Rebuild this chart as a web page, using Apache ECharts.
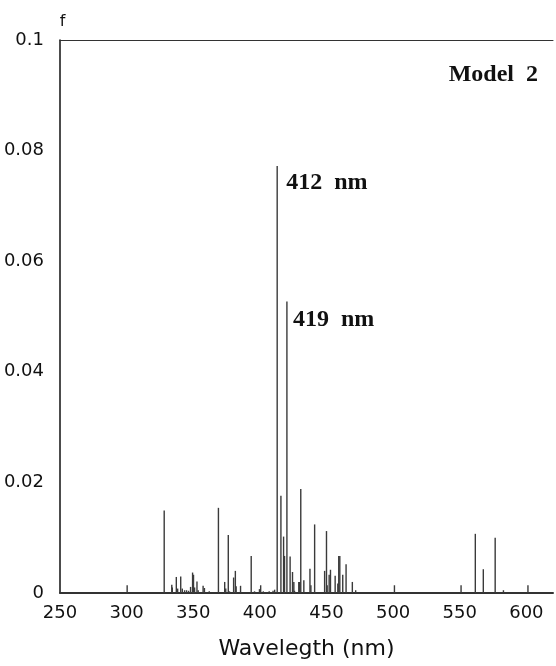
<!DOCTYPE html>
<html>
<head>
<meta charset="utf-8">
<script src="https://cdn.jsdelivr.net/npm/echarts@6/dist/echarts.min.js"></script>
<style>
  html, body { margin: 0; padding: 0; background: #fff; }
  #main { width: 556px; height: 666px; }
</style>
</head>
<body>
<div id="main"></div>
<script>
// 波长 (nm) 与振子强度 f
const wavelengths = [
  300.4, 328.2, 333.9, 334.3, 337.3, 338.3, 340.6, 341.8, 343.5, 345.0,
  346.5, 348.0, 349.5, 350.2, 351.0, 352.8, 353.7, 357.4, 358.4, 362.0,
  368.9, 373.6, 374.4, 376.3, 377.2, 380.3, 381.6, 382.2, 385.5, 393.5,
  396.0, 399.7, 400.6, 402.6, 407.0, 409.9, 411.1, 413.0, 415.8, 417.8,
  418.5, 420.3, 422.7, 424.5, 425.5, 426.0, 429.2, 429.9, 430.7, 433.0,
  437.6, 438.3, 441.1, 448.6, 450.0, 450.5, 452.0, 453.0, 456.5, 458.5,
  459.2, 460.0, 462.2, 464.7, 469.4, 471.9, 501.0, 551.0, 561.7, 567.7,
  576.6, 582.8, 601.2
];
const strengths = [
  0.0014, 0.0149, 0.0015, 0.0010, 0.0029, 0.0008, 0.0030, 0.0008, 0.0005, 0.0005,
  0.0004, 0.0011, 0.0037, 0.0033, 0.0010, 0.0021, 0.0005, 0.0013, 0.0009, 0.0003,
  0.0154, 0.0020, 0.0008, 0.0105, 0.0003, 0.0028, 0.0040, 0.0012, 0.0013, 0.0067,
  0.0003, 0.0007, 0.0014, 0.0003, 0.0003, 0.0004, 0.0006, 0.0772, 0.0176, 0.0102,
  0.0067, 0.0527, 0.0066, 0.0038, 0.0020, 0.0004, 0.0020, 0.0020, 0.0188, 0.0023,
  0.0044, 0.0014, 0.0124, 0.0040, 0.0112, 0.0014, 0.0033, 0.0042, 0.0031, 0.0017,
  0.0067, 0.0067, 0.0033, 0.0052, 0.0020, 0.0005, 0.0014, 0.0014, 0.0107, 0.0043,
  0.0100, 0.0005, 0.0014
];
// 标注的峰
const peakLabels = ['412  nm', '419  nm'];
const peakIndex = [37, 41];
const modelName = 'Model  2';

const xTicks = [250, 300, 350, 400, 450, 500, 550, 600];
const yTicks = [0, 0.02, 0.04, 0.06, 0.08, 0.1];

const chart = echarts.init(document.getElementById('main'), null, { renderer: 'canvas' });

const seriesData = wavelengths.map((w, i) => [w, strengths[i]]);
const tickFont = { fontFamily: 'DejaVu Sans', fontSize: 18, color: '#111' };
const serifFont = 'Liberation Serif';

chart.setOption({
  animation: false,
  grid: { left: 60, right: 0, top: 40, bottom: 73 },
  xAxis: [
    {
      type: 'value',
      min: 250,
      max: 620,
      interval: 50,
      position: 'bottom',
      name: 'Wavelegth (nm)',
      nameLocation: 'middle',
      nameGap: 45,
      nameTextStyle: { fontFamily: 'DejaVu Sans', fontSize: 22, color: '#111' },
      axisLine: { show: true, onZero: false, lineStyle: { color: '#333', width: 2 } },
      axisTick: { show: false },
      splitLine: { show: false },
      axisLabel: Object.assign({
        margin: 11,
        formatter: v => (xTicks.indexOf(v) >= 0 ? String(v) : '')
      }, tickFont)
    },
    {
      type: 'value',
      min: 250,
      max: 620,
      position: 'top',
      axisLine: { show: true, onZero: false, lineStyle: { color: '#333', width: 1 } },
      axisTick: { show: false },
      axisLabel: { show: false },
      splitLine: { show: false }
    }
  ],
  yAxis: {
    type: 'value',
    min: 0,
    max: 0.1,
    interval: 0.02,
    name: 'f',
    nameGap: 10,
    nameTextStyle: { fontFamily: 'DejaVu Sans', fontSize: 16, color: '#111', padding: [0, 0, 0, 5] },
    axisLine: { show: true, lineStyle: { color: '#111', width: 1.5 } },
    axisTick: { show: false },
    splitLine: { show: false },
    axisLabel: Object.assign({
      margin: 16,
      formatter: v => (yTicks.some(t => Math.abs(t - v) < 1e-9) ? String(+v.toFixed(2)) : '')
    }, tickFont)
  },
  series: [
    {
      type: 'bar',
      xAxisIndex: 0,
      barWidth: 1.4,
      itemStyle: { color: '#3a3a3a' },
      data: seriesData
    }
  ]
});

// 峰标注和模型名称
const texts = peakIndex.map((idx, k) => {
  const p = chart.convertToPixel({ xAxisIndex: 0, yAxisIndex: 0 }, seriesData[idx]);
  return {
    type: 'text',
    x: p[0] + (k === 0 ? 9 : 6),
    y: p[1] + (k === 0 ? 17 : 18),
    style: {
      text: peakLabels[k],
      font: 'bold 24px "' + serifFont + '"',
      fill: '#111',
      verticalAlign: 'middle',
      align: 'left'
    }
  };
});
texts.push({
  type: 'text',
  x: 538,
  y: 75,
  style: {
    text: modelName,
    font: 'bold 24px "' + serifFont + '"',
    fill: '#111',
    verticalAlign: 'middle',
    align: 'right'
  }
});
chart.setOption({ graphic: texts });
</script>
</body>
</html>
